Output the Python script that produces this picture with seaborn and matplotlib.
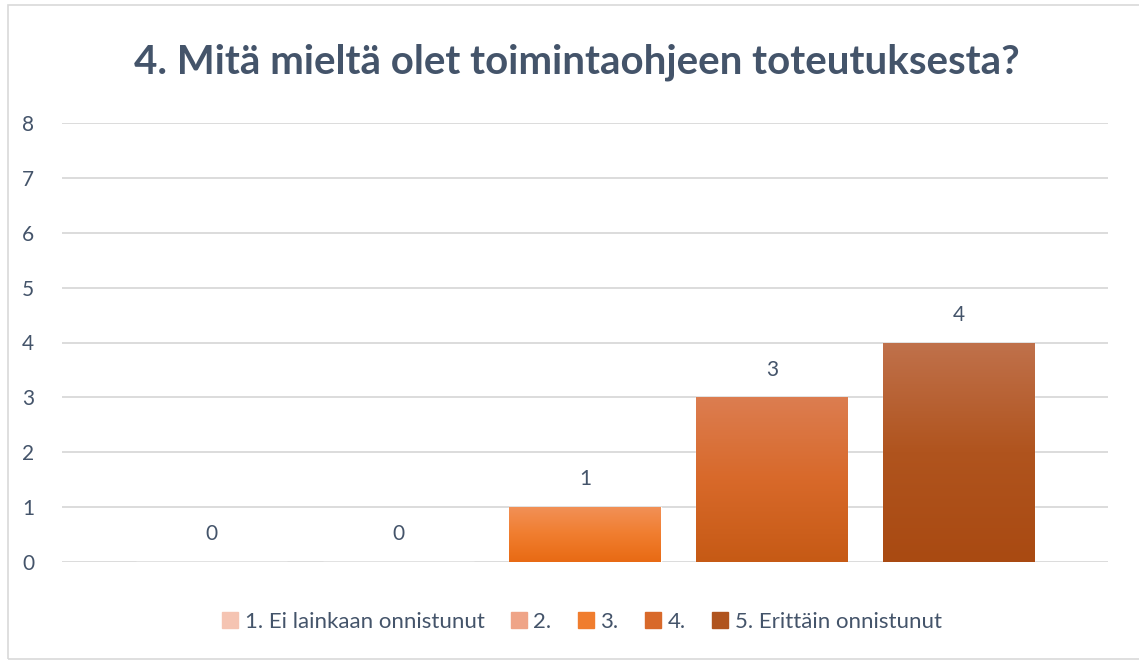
import numpy as np
import pandas as pd
import seaborn as sns
import matplotlib.pyplot as plt
from matplotlib.colors import to_rgb
from matplotlib.patches import Rectangle

categories = ['1. Ei lainkaan onnistunut', '2.', '3.', '4.', '5. Erittäin onnistunut']
counts = [0, 0, 1, 3, 4]
yticks = [0, 1, 2, 3, 4, 5, 6, 7, 8]
title = '4. Mitä mieltä olet toimintaohjeen toteutuksesta?'

# legend / base colours and gradient (top, bottom) per category
colors = ['#F5C4B2', '#EFA487', '#F07D2E', '#D8692A', '#B0541E']
grad_top = ['#F8D6CA', '#F3B89F', '#F29056', '#DC7D50', '#C0714B']
grad_bot = ['#F2B6A0', '#EA8E6A', '#E86A14', '#C65A15', '#A94A12']

txt = '#44546A'

df = pd.DataFrame({'category': categories, 'count': counts})

sns.set_theme(style='white')
plt.rcParams['font.family'] = ['Lato', 'DejaVu Sans']

fig = plt.figure(figsize=(11.39, 6.62), dpi=100)
ax = fig.add_axes([62 / 1139, 1 - 562 / 662, 1046 / 1139, 439 / 662])

sns.barplot(data=df, x='category', y='count', hue='category', palette=colors,
            width=0.81, dodge=False, legend=False, ax=ax)

# vertical gradients clipped to each bar
for i, p in enumerate(ax.patches):
    h = p.get_height()
    if h <= 0:
        continue
    x0, w = p.get_x(), p.get_width()
    c1, c2, c3 = (np.array(to_rgb(c)) for c in (grad_top[i], colors[i], grad_bot[i]))
    t = np.linspace(0, 1, 100)[:, None]
    g = np.where(t < 0.5, c1 + (c2 - c1) * (t / 0.5), c2 + (c3 - c2) * ((t - 0.5) / 0.5))
    img = ax.imshow(g[:, None, :], extent=[x0, x0 + w, 0, h], aspect='auto',
                    origin='upper', zorder=p.get_zorder() + 0.1)
    img.set_clip_path(p)

for i, v in enumerate(counts):
    ax.annotate(str(v), (i, v), xytext=(0, 20), textcoords='offset points',
                ha='center', va='center', fontsize=15, color=txt)

ax.set_xlim(-0.8, 4.8)
ax.set_ylim(0, 8)
ax.set_yticks(yticks)
ax.set_yticklabels([str(t) for t in yticks], fontsize=15, color=txt)
ax.set_xticks([])
ax.set_xlabel('')
ax.set_ylabel('')
ax.tick_params(axis='y', length=0, pad=20)
ax.grid(axis='y', color='#D9D9D9', linewidth=1.3)
ax.set_axisbelow(True)
for s in ax.spines.values():
    s.set_visible(False)

handles = [Rectangle((0, 0), 1, 1, color=c) for c in colors]
fig.legend(handles, categories, loc='center', bbox_to_anchor=(582 / 1139, 1 - 622 / 662),
           ncol=5, frameon=False, fontsize=16, labelcolor=txt, handlelength=0.7,
           handleheight=0.7, handletextpad=0.3, columnspacing=1.2)

fig.text(577 / 1139, 1 - 62 / 662, title, ha='center', va='center', fontsize=29,
         fontweight='bold', color=txt)

fig.patches.append(Rectangle((8 / 1139, 0.005), 1, 1 - 5 / 662 - 0.005, transform=fig.transFigure,
                             fill=False, edgecolor='#D9D9D9', linewidth=1.2))

fig.savefig('out.png', dpi=100)
